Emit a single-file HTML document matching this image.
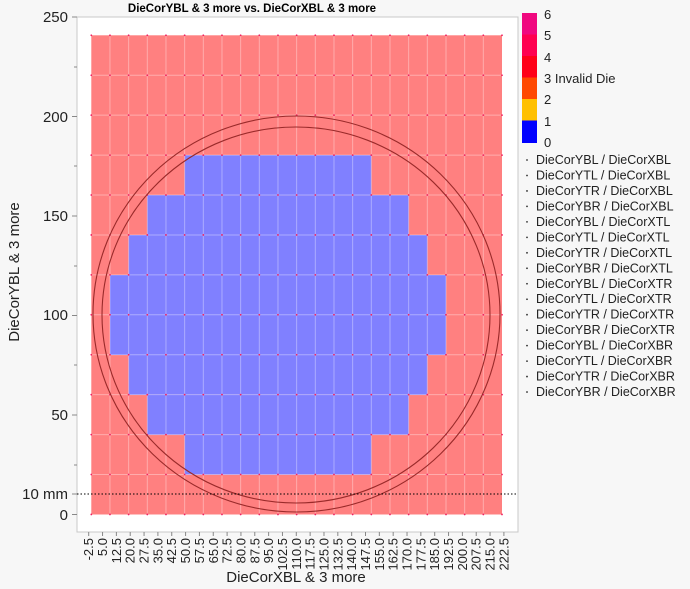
<!DOCTYPE html>
<html><head><meta charset="utf-8"><style>
body{margin:0;background:#f7f7f7;}
svg{display:block;font-family:"Liberation Sans",sans-serif;}
</style></head><body>
<svg width="690" height="589" xmlns="http://www.w3.org/2000/svg">
<rect x="0" y="0" width="690" height="589" fill="#f7f7f7"/>
<rect x="77" y="17" width="441" height="515" fill="#fff" stroke="#c8c8c8"/>
<text x="252" y="12" font-size="11.5" font-weight="bold" text-anchor="middle">DieCorYBL &amp; 3 more vs. DieCorXBL &amp; 3 more</text>
<rect x="91.3" y="35.3" width="410.7" height="479.2" fill="#ff8080"/>
<g fill="#8080ff">
<rect x="184.65" y="155.1" width="186.7" height="40"/>
<rect x="147.3" y="195.1" width="261.4" height="40"/>
<rect x="128.6" y="235.0" width="298.8" height="40"/>
<rect x="110.0" y="275.0" width="336.1" height="80"/>
<rect x="128.6" y="354.9" width="298.8" height="40"/>
<rect x="147.3" y="394.8" width="261.4" height="40"/>
<rect x="184.65" y="434.7" width="186.7" height="40"/>
</g>
<g id="grid" stroke="#ffffff" stroke-opacity="0.35" stroke-width="1"></g>
<g id="dots"></g>
<ellipse cx="296.5" cy="314" rx="203.5" ry="198" fill="none" stroke="#9a2a2a" stroke-width="1.1"/>
<ellipse cx="296" cy="315" rx="194" ry="188" fill="none" stroke="#9a2a2a" stroke-width="1.1"/>
<line x1="77" y1="494" x2="518" y2="494" stroke="#000" stroke-dasharray="1.5,2"/>
<g font-size="15" fill="#222" text-anchor="end">
<text x="68" y="22">250</text>
<text x="68" y="122">200</text>
<text x="68" y="221">150</text>
<text x="68" y="320">100</text>
<text x="68" y="420">50</text>
<text x="68" y="499">10 mm</text>
<text x="68" y="520">0</text>
</g>
<g stroke="#888">
<line x1="72" y1="17" x2="77" y2="17"/><line x1="74" y1="67" x2="77" y2="67"/>
<line x1="72" y1="116.5" x2="77" y2="116.5"/><line x1="74" y1="166" x2="77" y2="166"/>
<line x1="72" y1="216" x2="77" y2="216"/><line x1="74" y1="266" x2="77" y2="266"/>
<line x1="72" y1="315.5" x2="77" y2="315.5"/><line x1="74" y1="365" x2="77" y2="365"/>
<line x1="72" y1="415" x2="77" y2="415"/><line x1="74" y1="465" x2="77" y2="465"/>
<line x1="72" y1="514.5" x2="77" y2="514.5"/><line x1="72" y1="494" x2="77" y2="494"/>
</g>
<text transform="translate(19,272) rotate(-90)" font-size="15" text-anchor="middle" fill="#222">DieCorYBL &amp; 3 more</text>
<text x="296" y="582" font-size="15" text-anchor="middle" fill="#222">DieCorXBL &amp; 3 more</text>
<g id="xt" font-size="13" fill="#222"></g>
<g>
<rect x="522" y="13" width="15" height="21.5" fill="#f0087f"/>
<rect x="522" y="34.5" width="15" height="21.5" fill="#ff0050"/>
<rect x="522" y="56" width="15" height="21.5" fill="#ff0018"/>
<rect x="522" y="77.5" width="15" height="21.5" fill="#ff4800"/>
<rect x="522" y="99" width="15" height="21.5" fill="#ffc000"/>
<rect x="522" y="120.5" width="15" height="22.5" fill="#0000ff"/>
</g>
<g font-size="13" fill="#222">
<text x="544" y="19">6</text><text x="544" y="40">5</text><text x="544" y="62">4</text>
<text x="544" y="83">3 Invalid Die</text><text x="544" y="104">2</text><text x="544" y="126">1</text><text x="544" y="147">0</text>
</g>
<g id="ser" font-size="12.5" fill="#222"></g>
</svg>
<script>
var ns="http://www.w3.org/2000/svg";
function el(p,t,a,txt){var e=document.createElementNS(ns,t);for(var k in a)e.setAttribute(k,a[k]);if(txt)e.textContent=txt;document.getElementById(p).appendChild(e);}
var x0=91.3,cw=18.668,y0=35.3,rh=39.93;
for(var i=1;i<22;i++)el("grid","line",{x1:x0+i*cw,y1:y0,x2:x0+i*cw,y2:514.5});
for(var j=1;j<12;j++)el("grid","line",{x1:x0,y1:y0+j*rh,x2:502,y2:y0+j*rh});
for(var i=0;i<=22;i++)for(var j=0;j<=12;j++){el("dots","circle",{cx:x0+i*cw,cy:y0+j*rh,r:0.9,fill:"#f02060"});}
for(var i=0;i<31;i++){var v=(-2.5+7.5*i).toFixed(1);var x=88.7+i*13.84;el("xt","text",{transform:"translate("+(x+4.5)+",538) rotate(-90)","text-anchor":"end"},v);el("xt","line",{x1:x,y1:532,x2:x,y2:536,stroke:"#888"});}
var s=["DieCorYBL / DieCorXBL","DieCorYTL / DieCorXBL","DieCorYTR / DieCorXBL","DieCorYBR / DieCorXBL","DieCorYBL / DieCorXTL","DieCorYTL / DieCorXTL","DieCorYTR / DieCorXTL","DieCorYBR / DieCorXTL","DieCorYBL / DieCorXTR","DieCorYTL / DieCorXTR","DieCorYTR / DieCorXTR","DieCorYBR / DieCorXTR","DieCorYBL / DieCorXBR","DieCorYTL / DieCorXBR","DieCorYTR / DieCorXBR","DieCorYBR / DieCorXBR"];
for(var k=0;k<16;k++){var y=164+k*15.47;el("ser","text",{x:536,y:y},s[k]);el("ser","circle",{cx:527,cy:y-4,r:0.9,fill:"#333"});}
</script>
</body></html>
